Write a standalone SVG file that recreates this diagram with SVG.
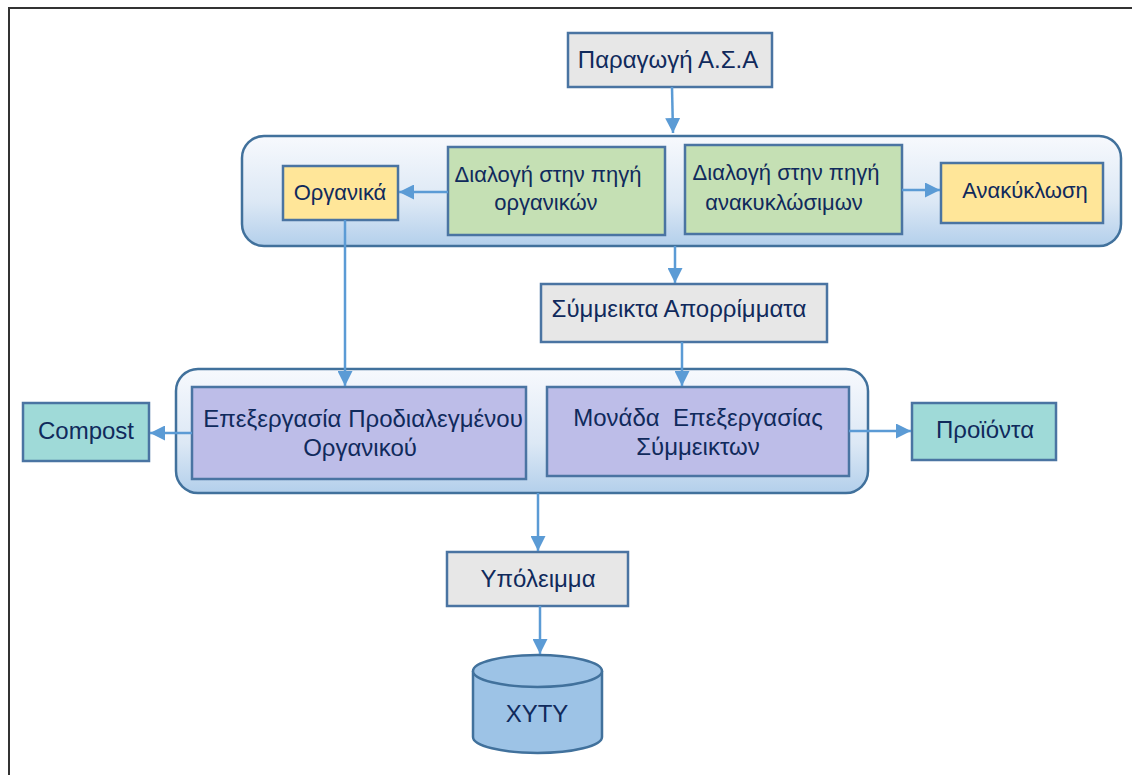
<svg xmlns="http://www.w3.org/2000/svg" width="1132" height="775" viewBox="0 0 1132 775">
<defs>
<linearGradient id="cg" x1="0" y1="0" x2="0" y2="1">
<stop offset="0" stop-color="#f7f9fd"/>
<stop offset="0.6" stop-color="#dce8f5"/>
<stop offset="1" stop-color="#b3cfeb"/>
</linearGradient>
<marker id="ah" viewBox="0 0 10 10" refX="10" refY="5" markerWidth="6" markerHeight="6" markerUnits="strokeWidth" orient="auto">
<path d="M0,0 L10,5 L0,10 z" fill="#5b9bd5"/>
</marker>
</defs>
<style>
.box{stroke:#4a74a2;stroke-width:2.5}
.grey{fill:#e7e7e7}
.green{fill:#c5e0b4}
.yellow{fill:#ffe699}
.purple{fill:#bdbde8}
.teal{fill:#9fdad8}
.cont{fill:url(#cg);stroke:#41719c;stroke-width:2.5}
text{font-family:"Liberation Sans",Arial,sans-serif;fill:#102a5c;font-size:24px;text-anchor:middle}
text.s{font-size:22px}
.conn line{stroke:#5b9bd5;stroke-width:2.5;marker-end:url(#ah)}
</style>
<rect width="1132" height="775" fill="#fff"/>
<path d="M9,775 V8 H1132" fill="none" stroke="#333" stroke-width="2"/>

<g id="container1"><rect class="cont" x="242" y="136" width="879" height="110" rx="22"/></g>
<g id="container2"><rect class="cont" x="176" y="369" width="692" height="124" rx="22"/></g>

<g id="paragogi"><rect class="box grey" x="568" y="33" width="204" height="54"/><text x="668" y="68" font-size="24.5">Παραγωγή Α.Σ.Α</text></g>
<g id="organika"><rect class="box yellow" x="283" y="166" width="115" height="54"/><text class="s" x="340" y="200">Οργανικά</text></g>
<g id="dialogi-org"><rect class="box green" x="448" y="147" width="217" height="88"/><text class="s" x="548" y="182">Διαλογή στην πηγή</text><text class="s" x="546" y="210">οργανικών</text></g>
<g id="dialogi-anak"><rect class="box green" x="685" y="145" width="217" height="89"/><text class="s" x="786" y="180">Διαλογή στην πηγή</text><text class="s" x="784" y="210">ανακυκλώσιμων</text></g>
<g id="anakyklosi"><rect class="box yellow" x="941" y="163" width="162" height="60"/><text class="s" x="1025" y="198">Ανακύκλωση</text></g>
<g id="symmeikta"><rect class="box grey" x="541" y="284" width="286" height="58"/><text x="679" y="317">Σύμμεικτα Απορρίμματα</text></g>
<g id="epexergasia-org"><rect class="box purple" x="192" y="387" width="334" height="92"/><text x="363" y="427">Επεξεργασία Προδιαλεγμένου</text><text x="360" y="456">Οργανικού</text></g>
<g id="monada"><rect class="box purple" x="547" y="387" width="302" height="89"/><text x="698" y="426" xml:space="preserve">Μονάδα  Επεξεργασίας</text><text x="698" y="455">Σύμμεικτων</text></g>
<g id="compost"><rect class="box teal" x="23" y="403" width="126" height="58"/><text x="86" y="439">Compost</text></g>
<g id="proionta"><rect class="box teal" x="912" y="403" width="144" height="57"/><text x="985" y="438">Προϊόντα</text></g>
<g id="ypoleimma"><rect class="box grey" x="447" y="552" width="181" height="54"/><text x="538" y="587">Υπόλειμμα</text></g>
<g id="xyty">
<path d="M473,671 V737 A64.5,16 0 0 0 602,737 V671" fill="#9dc3e6" stroke="#41719c" stroke-width="2.5"/>
<ellipse cx="537.5" cy="671" rx="64.5" ry="16" fill="#9dc3e6" stroke="#41719c" stroke-width="2.5"/>
<text x="537" y="722" font-size="26">ΧΥΤΥ</text>
</g>

<g class="conn" id="connectors">
<line x1="672" y1="87" x2="673" y2="133"/>
<line x1="448" y1="192" x2="399" y2="192"/>
<line x1="902" y1="190" x2="940" y2="190"/>
<line x1="675" y1="246" x2="675" y2="283"/>
<line x1="345" y1="220" x2="345" y2="386"/>
<line x1="682" y1="342" x2="682" y2="386"/>
<line x1="192" y1="433" x2="150" y2="433"/>
<line x1="849" y1="431" x2="911" y2="431"/>
<line x1="538" y1="493" x2="538" y2="551"/>
<line x1="540" y1="606" x2="540" y2="654"/>
</g>
</svg>
